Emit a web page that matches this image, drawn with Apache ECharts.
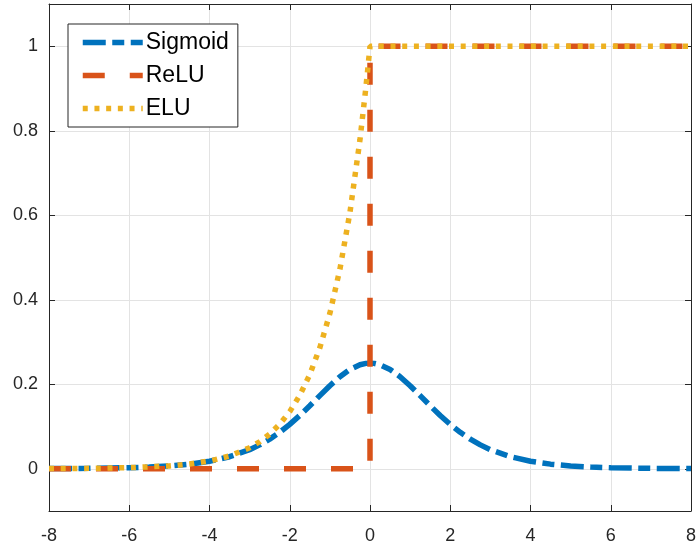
<!DOCTYPE html>
<html>
<head>
<meta charset="utf-8">
<script src="https://cdn.jsdelivr.net/npm/echarts@6/dist/echarts.min.js"></script>
<style>
html,body{margin:0;padding:0;background:#fff;}
#chart{width:696px;height:546px;}
</style>
</head>
<body>
<div id="chart"></div>
<script>
// Values
const sigmoidX = [-8,-7,-6,-5.5,-5,-4.5,-4,-3.5,-3,-2.75,-2.5,-2.25,-2,-1.75,-1.5,-1.25,-1,-0.75,-0.5,-0.25,-0.1,0,0.1,0.25,0.5,0.75,1,1.25,1.5,1.75,2,2.25,2.5,2.75,3,3.5,4,4.5,5,5.5,6,7,8];
const sigmoidY = [0.0003,0.0009,0.0025,0.0041,0.0066,0.0109,0.0177,0.0285,0.0452,0.0565,0.0701,0.0862,0.1050,0.1261,0.1491,0.1731,0.1966,0.2179,0.2350,0.2461,0.2494,0.25,0.2494,0.2461,0.2350,0.2179,0.1966,0.1731,0.1491,0.1261,0.1050,0.0862,0.0701,0.0565,0.0452,0.0285,0.0177,0.0109,0.0066,0.0041,0.0025,0.0009,0.0003];
const reluX = [-8,0,0,8];
const reluY = [0,0,1,1];
const eluX = [-8,-7,-6,-5,-4.5,-4,-3.5,-3,-2.75,-2.5,-2.25,-2,-1.75,-1.5,-1.25,-1,-0.75,-0.5,-0.25,-0.1,-0.05,0,8];
const eluY = [0.0003,0.0009,0.0025,0.0067,0.0111,0.0183,0.0302,0.0498,0.0639,0.0821,0.1054,0.1353,0.1738,0.2231,0.2865,0.3679,0.4724,0.6065,0.7788,0.9048,0.9512,1,1];
const seriesNames = ['Sigmoid','ReLU','ELU'];
const xTicks = [-8,-6,-4,-2,0,2,4,6,8];
const yTicks = [0,0.2,0.4,0.6,0.8,1];

const pairs = (xs, ys) => xs.map((x, i) => [x, ys[i]]);
const FONT = "'Liberation Sans', Arial, Helvetica, sans-serif";
const AX = '#262626';
const GRID = '#e3e3e3';
const LW = 5.5;

const chart = echarts.init(document.getElementById('chart'), null, {renderer: 'canvas'});
const option = {
  animation: false,
  backgroundColor: '#ffffff',
  grid: {left: 49, right: 5, top: 4, bottom: 35, containLabel: false, outerBoundsMode: 'none'},
  legend: {
    orient: 'vertical',
    left: 68, top: 24,
    data: seriesNames,
    backgroundColor: '#ffffff',
    borderColor: AX,
    borderWidth: 1,
    borderRadius: 0,
    padding: [7, 9, 7, 12],
    itemWidth: 60,
    itemHeight: 20,
    itemGap: 10,
    itemStyle: {opacity: 0},
    lineStyle: {width: LW},
    textStyle: {fontFamily: FONT, fontSize: 23, color: '#000', lineHeight: 20, padding: [0, 0, 0, -2]}
  },
  xAxis: [{
    type: 'value', min: xTicks[0], max: xTicks[xTicks.length - 1], interval: 2,
    position: 'bottom',
    axisLine: {onZero: false, lineStyle: {color: AX, width: 1}},
    axisTick: {inside: true, length: 6, lineStyle: {color: AX}},
    axisLabel: {color: AX, fontFamily: FONT, fontSize: 18, margin: 16},
    splitLine: {show: true, lineStyle: {color: GRID, width: 1}}
  }, {
    type: 'value', min: xTicks[0], max: xTicks[xTicks.length - 1], interval: 2,
    position: 'top',
    axisLine: {onZero: false, lineStyle: {color: AX, width: 1}},
    axisTick: {inside: true, length: 6, lineStyle: {color: AX}},
    axisLabel: {show: false},
    splitLine: {show: false}
  }],
  yAxis: [{
    type: 'value', min: -0.1, max: 1.1, minInterval: 0.2, maxInterval: 0.2,
    position: 'left',
    axisLine: {show: true, onZero: false, lineStyle: {color: AX, width: 1}},
    axisTick: {show: true, inside: true, length: 6, lineStyle: {color: AX}},
    axisLabel: {color: AX, fontFamily: FONT, fontSize: 18, margin: 11, showMinLabel: false, showMaxLabel: false},
    splitLine: {show: true, lineStyle: {color: GRID, width: 1}}
  }, {
    type: 'value', min: -0.1, max: 1.1, minInterval: 0.2, maxInterval: 0.2,
    position: 'right',
    axisLine: {show: true, onZero: false, lineStyle: {color: AX, width: 1}},
    axisTick: {show: true, inside: true, length: 6, lineStyle: {color: AX}},
    axisLabel: {show: false},
    splitLine: {show: false}
  }],
  series: [{
    name: seriesNames[0], type: 'line', xAxisIndex: 0, yAxisIndex: 0,
    data: pairs(sigmoidX, sigmoidY),
    symbol: 'none', smooth: false,
    color: '#0072BD',
    lineStyle: {color: '#0072BD', width: LW, type: [23, 6.5, 12, 6.5], cap: 'butt'}
  }, {
    name: seriesNames[1], type: 'line', xAxisIndex: 0, yAxisIndex: 0,
    data: pairs(reluX, reluY),
    symbol: 'none',
    color: '#D95319',
    lineStyle: {color: '#D95319', width: LW, type: [22, 25], cap: 'butt'}
  }, {
    name: seriesNames[2], type: 'line', xAxisIndex: 0, yAxisIndex: 0,
    data: pairs(eluX, eluY),
    symbol: 'none',
    color: '#EDB120',
    lineStyle: {color: '#EDB120', width: LW, type: [5, 6.7], cap: 'butt'}
  }]
};
chart.setOption(option);
</script>
</body>
</html>
